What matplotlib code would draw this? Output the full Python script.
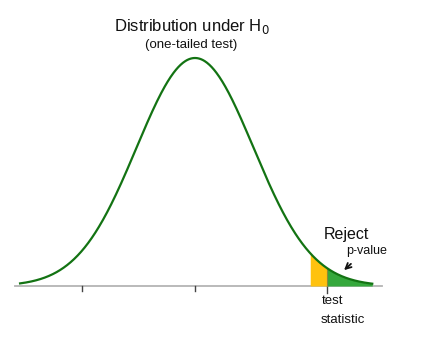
import numpy as np
import matplotlib.pyplot as plt

plt.rcParams['font.family'] = ['Liberation Sans', 'DejaVu Sans']

# -----------------------------------------------------------------------------

mean = 0.0
sd = 1.0
z_start = -2.99
z_end = 3.03
crit_value = 1.97
test_stat = 2.26
tick_z = [-1.93, 0.0]

title = 'Distribution under H$_0$'
subtitle = '(one-tailed test)'

# -----------------------------------------------------------------------------

def pdf(z):
    return np.exp(-0.5 * ((z - mean) / sd) ** 2) / (sd * np.sqrt(2 * np.pi))

fig = plt.figure(figsize=(4.24, 3.59), dpi=100)
ax = fig.add_axes([0, 0, 1, 1])

px = 58.5
py = 228 / pdf(mean)
ax.set_xlim((0 - 195) / px, (424 - 195) / px)
ax.set_ylim(-73 / py, (359 - 73) / py)
ax.axis('off')

# baseline
ax.plot([(15 - 195) / px, (382 - 195) / px], [0, 0], color='#b4b4b4', lw=1.3, zorder=1)
for t in tick_z:
    ax.plot([t, t], [0, -5 / py], color='#444444', lw=1.0, zorder=1)
ax.plot([test_stat, test_stat], [0, -7 / py], color='#444444', lw=1.0, zorder=1)

# shaded tails
z = np.linspace(crit_value, test_stat, 100)
ax.fill_between(z, 0, pdf(z), color='#ffc20e', lw=0, zorder=2)
z = np.linspace(test_stat, z_end, 200)
ax.fill_between(z, 0, pdf(z), color='#35a83c', lw=0, zorder=2)
ax.plot([test_stat, test_stat], [0, pdf(test_stat)], color='#8a8a3a', lw=0.8, zorder=2)

# curve
z = np.linspace(z_start, z_end, 600)
ax.plot(z, pdf(z), color='#137313', lw=1.6, zorder=3)

# text
ax.text((192 - 195) / px, (359 - 73 - 26) / py, title, ha='center', va='center',
        fontsize=12, color='#111111')
ax.text((191 - 195) / px, (359 - 73 - 45) / py, subtitle, ha='center', va='center',
        fontsize=9.5, color='#111111')
ax.text((346 - 195) / px, (359 - 73 - 235) / py, 'Reject', ha='center', va='center',
        fontsize=11.5, color='#111111')
ax.text((367 - 195) / px, (359 - 73 - 251) / py, 'p-value', ha='center', va='center',
        fontsize=9, color='#111111')
ax.annotate('', xy=((342 - 195) / px, (359 - 73 - 272) / py),
            xytext=((353 - 195) / px, (359 - 73 - 262) / py),
            arrowprops=dict(arrowstyle='->', color='#111111', lw=1.3))
ax.text((333 - 195) / px, (359 - 73 - 301) / py, 'test', ha='center', va='center',
        fontsize=9.5, color='#111111')
ax.text((343 - 195) / px, (359 - 73 - 320) / py, 'statistic', ha='center', va='center',
        fontsize=9.5, color='#111111')

fig.savefig('out.png', dpi=100, facecolor='white')
